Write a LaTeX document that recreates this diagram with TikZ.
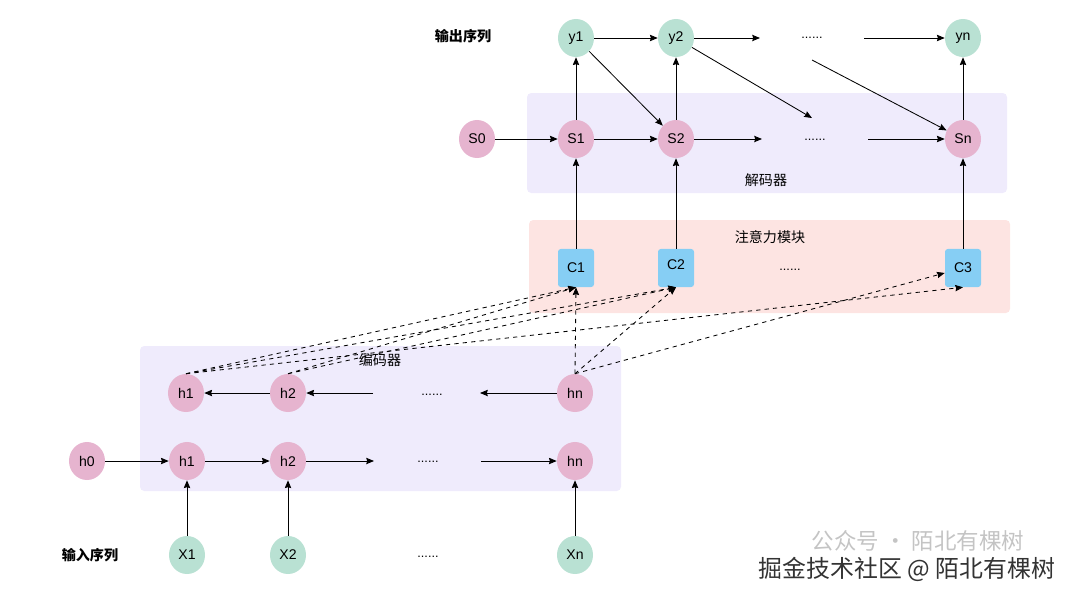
\documentclass[tikz,border=0pt]{standalone}
\usepackage{fontspec}
\setmainfont{Liberation Sans}
\newfontfamily\cjk{Noto Sans CJK SC}
\usetikzlibrary{arrows.meta, positioning, shapes.geometric}
\definecolor{statepink}{HTML}{E6B4CF}
\definecolor{seqgreen}{HTML}{B9E1D3}
\definecolor{ctxblue}{HTML}{86CEF4}
\definecolor{layerlilac}{HTML}{EFEBFC}
\definecolor{attnpink}{HTML}{FDE4E2}
\definecolor{markgray}{HTML}{C4C4C4}

\begin{document}
\begin{tikzpicture}[x=0.025cm, y=-0.025cm, >={Stealth[length=5.5pt, width=4.5pt, inset=0.6pt]},
  font=\fontsize{10}{12}\selectfont,
  hstate/.style={ellipse, fill=statepink, minimum width=0.9cm, minimum height=0.95cm, inner sep=0pt},
  seqnode/.style={hstate, fill=seqgreen},
  ctxnode/.style={rectangle, rounded corners=2pt, fill=ctxblue, minimum width=0.9cm, minimum height=0.95cm},
  dotsnode/.style={font=\fontsize{9}{10}\selectfont},
  flow/.style={->, line width=0.6pt},
  attn/.style={->, dashed, line width=0.6pt},
  zonelabel/.style={font=\cjk\fontsize{10}{12}\selectfont},
  rowlabel/.style={font=\cjk\bfseries\fontsize{10}{12}\selectfont}]
  \useasboundingbox (0,0) rectangle (1080,598);

  % Layer boxes
  \fill[layerlilac, rounded corners=3pt] (527,93) rectangle (1007,193);
  \fill[attnpink, rounded corners=3pt] (529,220) rectangle (1010,313);
  \fill[layerlilac, rounded corners=3pt] (140,346) rectangle (621,491);
  \node[zonelabel] (declbl) at (766,180) {解码器};
  \node[zonelabel] (attlbl) at (770,237) {注意力模块};
  \node[zonelabel] (enclbl) at (380,360) {编码器};

  % Output sequence
  \node[rowlabel] (outlbl) at (463,36) {输出序列};
  \node[seqnode] (y1) at (576,38) {y1};
  \node[seqnode] (y2) at (676,38) {y2};
  \node[dotsnode] (ydots) at (812,38) {......};
  \node[seqnode] (yn) at (963,38) {yn};

  % Decoder states
  \node[hstate] (s0) at (477,139) {S0};
  \node[hstate] (s1) at (576,139) {S1};
  \node[hstate] (s2) at (676,139) {S2};
  \node[dotsnode] (sdots) at (815,140) {......};
  \node[hstate] (sn) at (963,139) {Sn};

  % Context vectors
  \node[ctxnode] (c1) at (576,268) {C1};
  \node[ctxnode] (c2) at (676,268) {\raisebox{5pt}{C2}};
  \node[dotsnode] (cdots) at (790,270) {......};
  \node[ctxnode] (c3) at (963,268) {C3};

  % Encoder, backward row
  \node[hstate] (g1) at (186,393) {h1};
  \node[hstate] (g2) at (288,393) {h2};
  \node[dotsnode] (gdots) at (432,395) {......};
  \node[hstate] (gn) at (575,393) {hn};

  % Encoder, forward row
  \node[hstate] (h0) at (87,461) {h0};
  \node[hstate] (h1) at (187,461) {h1};
  \node[hstate] (h2) at (288,461) {h2};
  \node[dotsnode] (hdots) at (428,462) {......};
  \node[hstate] (hn) at (575,461) {hn};

  % Input sequence
  \node[rowlabel] (inlbl) at (90,555) {输入序列};
  \node[seqnode] (x1) at (187,555) {X1};
  \node[seqnode] (x2) at (288,555) {X2};
  \node[dotsnode] (xdots) at (428,557) {......};
  \node[seqnode] (xn) at (575,555) {Xn};

  % Free ends next to the dots
  \coordinate (yin) at (760,38);
  \coordinate (yout) at (864,38);
  \coordinate (ydown) at (812,118);
  \coordinate (yfrom) at (812,60);
  \coordinate (sin) at (762,139);
  \coordinate (sout) at (868,139);
  \coordinate (gin) at (480,393);
  \coordinate (gout) at (373,393);
  \coordinate (hin) at (374,461);
  \coordinate (hout) at (481,461);

  % Output chain
  \draw[flow] (y1) -- (y2);
  \draw[flow] (y2) -- (yin);
  \draw[flow] (yout) -- (yn);
  \draw[flow] (y1) -- (s2);
  \draw[flow] (y2) -- (ydown);
  \draw[flow] (yfrom) -- (sn);

  % Decoder chain
  \draw[flow] (s0) -- (s1);
  \draw[flow] (s1) -- (s2);
  \draw[flow] (s2) -- (sin);
  \draw[flow] (sout) -- (sn);
  \draw[flow] (s1) -- (y1);
  \draw[flow] (s2) -- (y2);
  \draw[flow] (sn) -- (yn);
  \draw[flow] (c1) -- (s1);
  \draw[flow] (c2) -- (s2);
  \draw[flow] (c3) -- (sn);

  % Encoder chains
  \draw[flow] (gn) -- (gin);
  \draw[flow] (gout) -- (g2);
  \draw[flow] (g2) -- (g1);
  \draw[flow] (h0) -- (h1);
  \draw[flow] (h1) -- (h2);
  \draw[flow] (h2) -- (hin);
  \draw[flow] (hout) -- (hn);
  \draw[flow] (x1) -- (h1);
  \draw[flow] (x2) -- (h2);
  \draw[flow] (xn) -- (hn);

  % Attention links
  \draw[attn] (g1.north) -- (c1.south);
  \draw[attn] (g1.north) -- (c2.south);
  \draw[attn] (g1.north) -- (c3.south);
  \draw[attn] (g2.north) -- (c1.south);
  \draw[attn] (g2.north) -- (c2.south);
  \draw[attn] (gn.north) -- (c1.south);
  \draw[attn] (gn.north) -- (c2.south);
  \draw[attn] (gn.north) -- (c3);

  % Watermark
  \node[markgray, font=\cjk\fontsize{16}{18}\selectfont] (mark1) at (918,541) {公众号 · 陌北有棵树};
  \node[black!80, font=\cjk\fontsize{17}{20}\selectfont] (mark2) at (907,569) {掘金技术社区 @ 陌北有棵树};
\end{tikzpicture}
\end{document}
